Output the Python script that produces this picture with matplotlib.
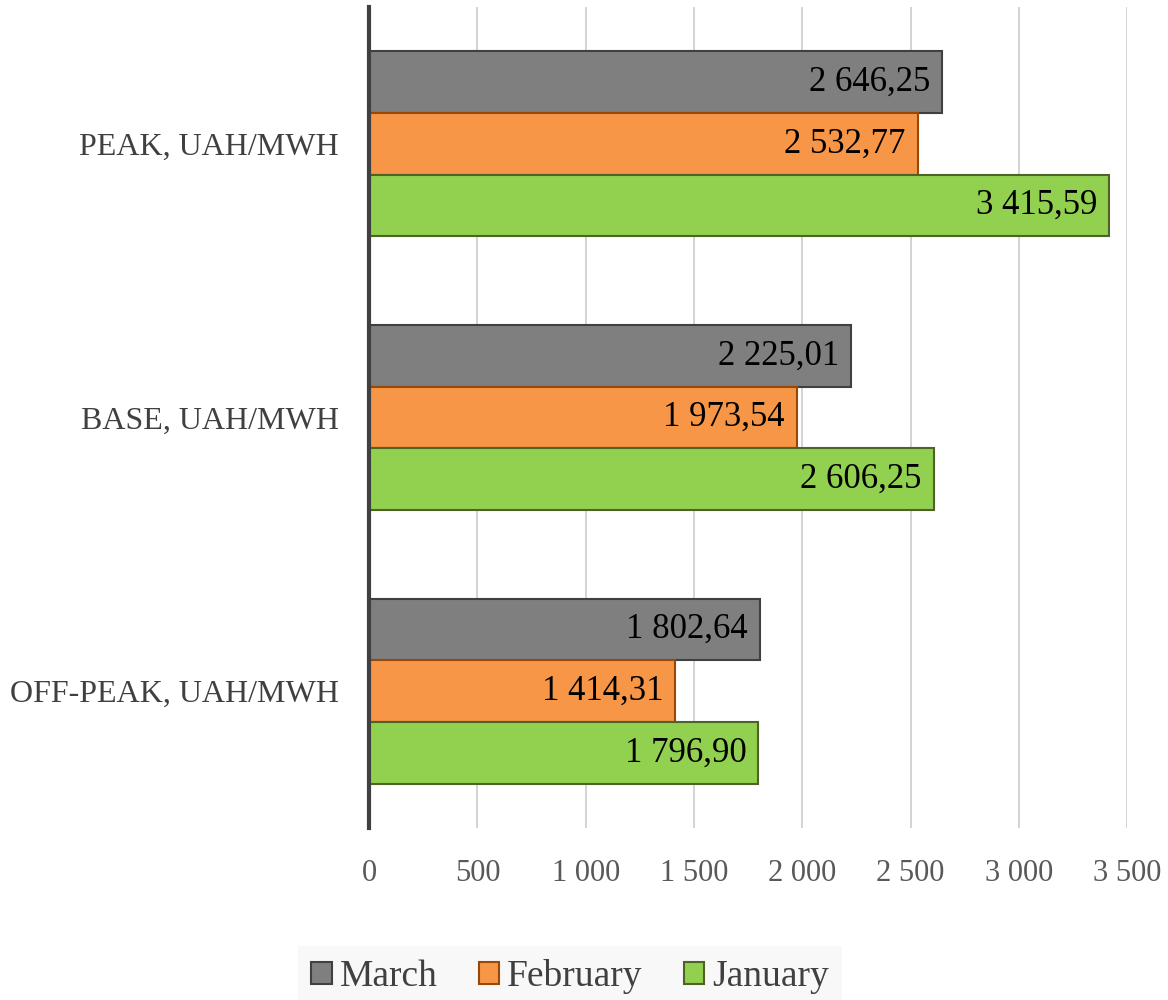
import numpy as np
import matplotlib.pyplot as plt
from matplotlib.patches import Patch
from matplotlib.ticker import FuncFormatter

plt.rcParams['font.family'] = ['Liberation Serif', 'DejaVu Serif']

categories = ['PEAK, UAH/MWH', 'BASE, UAH/MWH', 'OFF-PEAK, UAH/MWH']
series = ['March', 'February', 'January']
march = [2646.25, 2225.01, 1802.64]
february = [2532.77, 1973.54, 1414.31]
january = [3415.59, 2606.25, 1796.90]

fills = ['#7F7F7F', '#F79646', '#92D050']
edges = ['#404040', '#984807', '#4F6228']


def fmt_value(v):
    s = f'{v:,.2f}'
    return s.replace(',', ' ').replace('.', ',')


def fmt_tick(v, pos):
    return f'{v:,.0f}'.replace(',', ' ')


fig = plt.figure(figsize=(11.68, 10), dpi=100)
ax = fig.add_axes([0.316, 0.172, 0.649, 0.821])

y = np.arange(len(categories))
h = 0.225
values = [march, february, january]
for i, (vals, fc, ec) in enumerate(zip(values, fills, edges)):
    pos = y + (i - 1) * h
    bars = ax.barh(pos, vals, height=h, color=fc, edgecolor=ec, linewidth=1.5, zorder=3)
    for b, v in zip(bars, vals):
        ax.text(v - 55, b.get_y() + b.get_height() / 2, fmt_value(v),
                ha='right', va='center', fontsize=25, color='black', zorder=4)

ax.set_ylim(2.5, -0.5)
ax.set_xlim(0, 3500)
ax.set_xticks(np.arange(0, 3501, 500))
ax.xaxis.set_major_formatter(FuncFormatter(fmt_tick))
ax.set_yticks(y)
ax.set_yticklabels(categories)

ax.grid(axis='x', color='#D0D0D0', linewidth=1.3, zorder=0)
for side in ['top', 'right', 'bottom']:
    ax.spines[side].set_visible(False)
ax.spines['left'].set_color('#404040')
ax.spines['left'].set_linewidth(3)
ax.spines['left'].set_zorder(5)

ax.tick_params(axis='x', length=0, pad=22, labelsize=22, labelcolor='#595959')
ax.tick_params(axis='y', length=0, pad=22, labelsize=23, labelcolor='#404040')

handles = [Patch(facecolor=fc, edgecolor=ec, linewidth=1.5, label=s)
           for s, fc, ec in zip(series, fills, edges)]
leg = fig.legend(handles=handles, loc='lower center', bbox_to_anchor=(0.488, -0.026),
                 ncol=3, frameon=True, fontsize=27, handlelength=0.55, handleheight=0.55,
                 handletextpad=0.2, columnspacing=1.1, borderpad=0.35, fancybox=False)
leg.get_frame().set_facecolor('#F7F7F7')
leg.get_frame().set_edgecolor('none')
for t in leg.get_texts():
    t.set_color('#404040')

fig.savefig('out.png', dpi=100)
